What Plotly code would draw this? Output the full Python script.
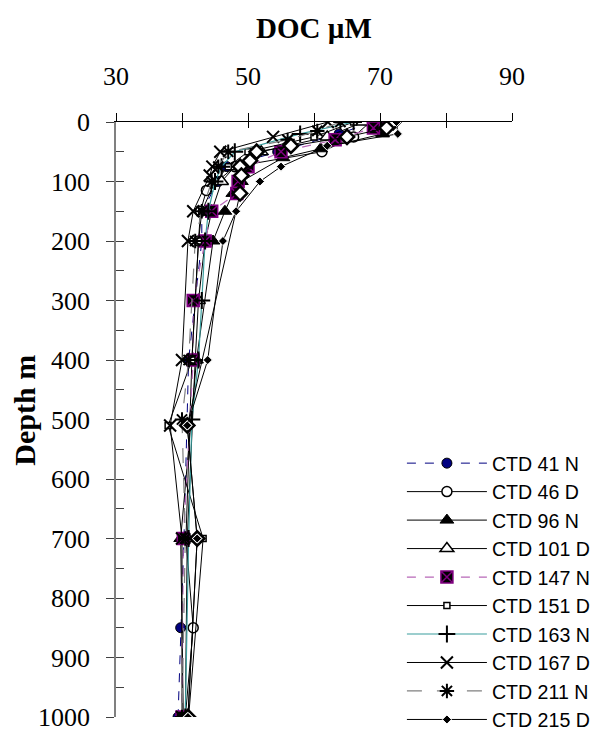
import plotly.graph_objects as go

# ---- data (DOC in µM vs depth in m) ----
series_names = ["CTD 41 N", "CTD 46 D", "CTD 96 N", "CTD 101 D", "CTD 147 N",
                "CTD 151 D", "CTD 163 N", "CTD 167 D", "CTD 211 N", "CTD 215 D"]

depth_41N = [0, 20, 50, 75, 100, 150, 200, 400, 700, 850, 1000]
doc_41N = [68.8, 63.8, 54.5, 46.8, 45.5, 43.0, 43.0, 41.0, 40.3, 39.8, 39.4]

depth_46D = [0, 25, 50, 75, 115, 150, 200, 400, 700, 850, 1000]
doc_46D = [68.5, 66.0, 61.2, 48.0, 43.7, 42.8, 42.5, 41.5, 40.6, 41.7, 40.5]

depth_96N = [0, 20, 45, 60, 100, 120, 150, 200, 400, 700, 1000]
doc_96N = [70.0, 70.4, 61.0, 55.3, 49.0, 47.7, 46.5, 44.7, 42.2, 39.8, 40.2]

depth_101D = [0, 25, 50, 75, 100, 150, 200, 300, 400, 700, 1000]
doc_101D = [67.4, 62.0, 52.0, 48.0, 46.0, 44.5, 43.5, 42.5, 42.0, 40.8, 40.5]

depth_147N = [0, 10, 30, 50, 75, 100, 120, 150, 200, 300, 400, 700, 1000]
doc_147N = [69.6, 69.0, 63.2, 55.0, 50.0, 48.5, 48.3, 44.5, 43.5, 41.7, 41.7, 40.2, 40.0]

depth_151D = [0, 25, 50, 75, 100, 150, 200, 400, 510, 700, 1000]
doc_151D = [66.0, 60.0, 50.0, 47.0, 45.0, 43.0, 42.5, 41.5, 37.9, 43.2, 41.0]

depth_163N = [0, 20, 50, 75, 100, 150, 200, 300, 400, 500, 700, 1000]
doc_163N = [66.0, 57.9, 48.0, 46.0, 45.0, 44.0, 43.5, 43.0, 42.5, 41.5, 41.0, 40.5]

depth_167D = [0, 25, 50, 75, 90, 150, 200, 400, 510, 700, 1000]
doc_167D = [62.1, 53.8, 45.8, 44.6, 44.2, 41.7, 40.9, 40.0, 38.2, 40.0, 40.0]

depth_211N = [0, 15, 30, 50, 75, 100, 150, 200, 400, 500, 700, 1000]
doc_211N = [64.0, 60.5, 56.0, 47.0, 45.5, 44.5, 43.0, 42.0, 41.0, 40.0, 40.5, 40.0]

depth_215D = [0, 20, 40, 75, 100, 150, 200, 400, 510, 700, 1000]
doc_215D = [72.5, 72.7, 62.0, 55.0, 51.8, 48.2, 46.2, 43.9, 40.8, 42.3, 40.9]

# extra series whose legend entry is cut off below the image
depth_extra = [0, 10, 25, 40, 50, 65, 75, 90, 120, 510, 700, 1000]
doc_extra = [72.0, 71.0, 65.0, 56.5, 51.3, 50.3, 48.8, 49.0, 48.8, 40.8, 42.3, 40.9]

x_tickvals = [30, 40, 50, 60, 70, 80, 90]
x_ticktext = ["30", "", "50", "", "70", "", "90"]
y_tickvals = [0, 100, 200, 300, 400, 500, 600, 700, 800, 900, 1000]

# ---- styles ----
styles = [
    dict(line=dict(color="#000080", width=1, dash="dash"),
         marker=dict(symbol="circle", size=10, color="#000080", line=dict(color="black", width=1))),
    dict(line=dict(color="black", width=1),
         marker=dict(symbol="circle", size=10, color="white", line=dict(color="black", width=1.5))),
    dict(line=dict(color="black", width=1),
         marker=dict(symbol="triangle-up", size=12, color="black", line=dict(color="black", width=1))),
    dict(line=dict(color="black", width=1),
         marker=dict(symbol="triangle-up", size=12, color="white", line=dict(color="black", width=1.5))),
    dict(line=dict(color="#b868b8", width=1.2, dash="dash"),
         marker=dict(symbol="square-x", size=12, color="black", line=dict(color="#800080", width=1.5))),
    dict(line=dict(color="black", width=1),
         marker=dict(symbol="square", size=6, color="white", line=dict(color="black", width=1.5))),
    dict(line=dict(color="#3a9e9e", width=1.2),
         marker=dict(symbol="cross-thin-open", size=12, color="black", line=dict(color="black", width=2))),
    dict(line=dict(color="black", width=1),
         marker=dict(symbol="x-thin-open", size=12, color="black", line=dict(color="black", width=2))),
    dict(line=dict(color="#808080", width=1.2, dash="longdash"),
         marker=dict(symbol="asterisk-open", size=12, color="black", line=dict(color="black", width=2))),
    dict(line=dict(color="black", width=1),
         marker=dict(symbol="diamond", size=7, color="black", line=dict(color="white", width=1))),
]

data = [
    (depth_41N, doc_41N), (depth_46D, doc_46D), (depth_96N, doc_96N),
    (depth_101D, doc_101D), (depth_147N, doc_147N), (depth_151D, doc_151D),
    (depth_163N, doc_163N), (depth_167D, doc_167D), (depth_211N, doc_211N),
    (depth_215D, doc_215D),
]

fig = go.Figure()
for i, (name, (dep, doc), st) in enumerate(zip(series_names, data, styles)):
    if i == 9:
        fig.add_trace(go.Scatter(
            x=doc_extra, y=depth_extra, mode="lines+markers", showlegend=False,
            line=dict(color="black", width=1),
            marker=dict(symbol="diamond", size=11, color="white", line=dict(color="black", width=2.5)),
        ))
    fig.add_trace(go.Scatter(x=doc, y=dep, name=name, mode="lines+markers",
                             line=st["line"], marker=st["marker"]))

# overlay axes for crossing ticks
fig.add_trace(go.Scatter(x=[None], y=[None], xaxis="x2", yaxis="y", showlegend=False, hoverinfo="skip"))
fig.add_trace(go.Scatter(x=[None], y=[None], xaxis="x", yaxis="y2", showlegend=False, hoverinfo="skip"))

tick_font = dict(family="Liberation Serif", size=26, color="black")

# the page adds an 8 px body margin, so the figure is 8 px smaller each way
fig.update_layout(
    template="none",
    width=595, height=724,
    margin=dict(l=108, r=91, t=114, b=15, autoexpand=False),
    paper_bgcolor="white", plot_bgcolor="white",
    showlegend=True,
    xaxis=dict(range=[30, 90], side="top", showgrid=False, zeroline=False, automargin=False,
               showline=True, linecolor="black", linewidth=1.2,
               tickmode="array", tickvals=x_tickvals, ticktext=x_ticktext,
               ticks="outside", ticklen=8, tickcolor="black", tickwidth=1.2,
               tickfont=tick_font, ticklabelstandoff=18, ticklabeloverflow="allow"),
    xaxis2=dict(range=[30, 90], overlaying="x", side="top", anchor="y", showgrid=False,
                zeroline=False, showline=False, tickmode="array", tickvals=x_tickvals,
                ticks="inside", ticklen=6, tickcolor="black", tickwidth=1.2,
                showticklabels=False, automargin=False),
    yaxis=dict(range=[1000, 0], showgrid=False, zeroline=False, automargin=False,
               showline=True, linecolor="#808080", linewidth=1.8,
               tickmode="array", tickvals=y_tickvals,
               ticks="outside", ticklen=8, tickcolor="#404040", tickwidth=1.2,
               tickfont=tick_font, ticklabelstandoff=11, ticklabeloverflow="allow"),
    yaxis2=dict(range=[1000, 0], overlaying="y", anchor="x", showgrid=False, zeroline=False,
                showline=False, tickmode="linear", tick0=0, dtick=50, automargin=False,
                ticks="inside", ticklen=8, tickcolor="#404040", tickwidth=1.2,
                showticklabels=False),
    legend=dict(x=0.722, y=0.459, xanchor="left", yanchor="top",
                font=dict(family="Liberation Sans", size=19.6, color="black"),
                bgcolor="rgba(0,0,0,0)", itemwidth=80, tracegroupgap=0),
    annotations=[
        dict(text="<b>DOC µM</b>", xref="paper", yref="paper", x=0.5, y=1.158,
             xanchor="center", yanchor="middle", showarrow=False,
             font=dict(family="Liberation Serif", size=29, color="black")),
        dict(text="<b>Depth m</b>", xref="paper", yref="paper", x=-0.232, y=0.515,
             xanchor="center", yanchor="middle", showarrow=False, textangle=-90,
             font=dict(family="Liberation Serif", size=30, color="black")),
    ],
)

fig.write_html("out.html")
